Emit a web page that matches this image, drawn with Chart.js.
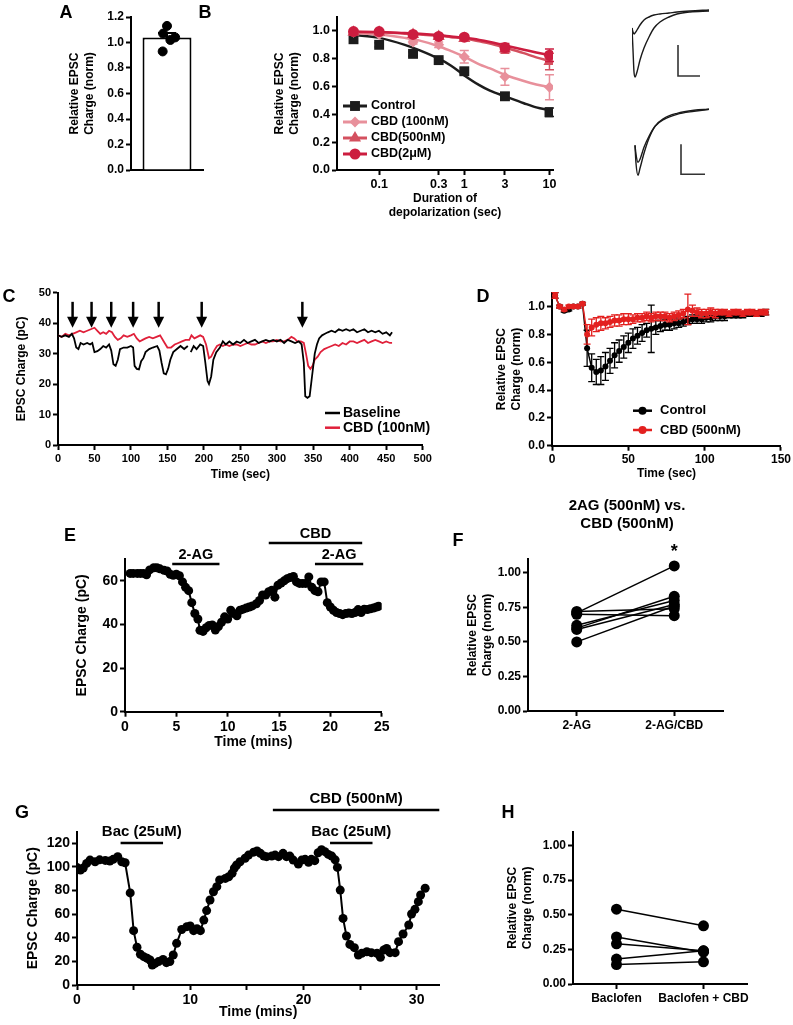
<!DOCTYPE html>
<html>
<head>
<meta charset="utf-8">
<title>CBD EPSC figura</title>
<script src="https://cdn.jsdelivr.net/npm/chart.js@4.4.1/dist/chart.umd.min.js"></script>
<style>
  body { margin: 0; background: #fff; }
  #fig { position: relative; width: 793px; height: 1025px; overflow: hidden; font-family: "Liberation Sans", Arial, sans-serif; color: #000; }
  #fig canvas { position: absolute; }
  .letra { position: absolute; font-weight: bold; font-size: 18px; transform: translate(-50%, -50%); z-index: 2; }
  .titulo { position: absolute; font-weight: bold; font-size: 15px; line-height: 18px; text-align: center; transform: translate(-50%, 0); white-space: nowrap; z-index: 2; }
</style>
</head>
<body>
<div id="fig">
  <canvas id="cA"></canvas>
  <canvas id="cB"></canvas>
  <canvas id="cBt1"></canvas>
  <canvas id="cBt2"></canvas>
  <canvas id="cC"></canvas>
  <canvas id="cD"></canvas>
  <canvas id="cE"></canvas>
  <canvas id="cF"></canvas>
  <canvas id="cG"></canvas>
  <canvas id="cH"></canvas>
  <div class="letra" style="left:66px;top:12px">A</div>
  <div class="letra" style="left:205px;top:12px">B</div>
  <div class="letra" style="left:9px;top:296px">C</div>
  <div class="letra" style="left:483px;top:296px">D</div>
  <div class="letra" style="left:70px;top:535px">E</div>
  <div class="letra" style="left:458px;top:540px">F</div>
  <div class="letra" style="left:22px;top:812px">G</div>
  <div class="letra" style="left:508px;top:812px">H</div>
  <div class="titulo" style="left:627px;top:496px">2AG (500nM) vs.<br>CBD (500nM)</div>
</div>
<script>
//==== Datos de cada panel ====

// A: carga relativa tras despolarizar con CBD
var aLabels = [''];
var aMean = [1.04];
var aSem = [0.035];
var aCells = [1.13, 1.07, 1.02, 1.04, 0.93];
var aJitter = [0.0, -0.08, 0.07, 0.17, -0.09];
var aYTicks = [0, 0.2, 0.4, 0.6, 0.8, 1.0, 1.2];

// B: curva DSE segun duracion de la despolarizacion
var bDur = [0.05, 0.1, 0.25, 0.5, 1, 3, 10];
var bCtrl = [0.94, 0.90, 0.835, 0.79, 0.71, 0.53, 0.415];
var bCtrlSem = [0.015, 0.015, 0.015, 0.015, 0.02, 0.025, 0.03];
var bCbd100 = [0.99, 0.975, 0.92, 0.90, 0.815, 0.67, 0.595];
var bCbd100Sem = [0.01, 0.01, 0.015, 0.02, 0.045, 0.06, 0.09];
var bCbd500 = [0.99, 0.99, 0.975, 0.96, 0.945, 0.87, 0.78];
var bCbd500Sem = [0.01, 0.01, 0.01, 0.015, 0.02, 0.03, 0.06];
var bCbd2 = [0.995, 0.995, 0.975, 0.96, 0.955, 0.88, 0.825];
var bCbd2Sem = [0.01, 0.01, 0.01, 0.01, 0.015, 0.03, 0.045];
var bFitX = [0.05, 0.1, 0.2, 0.3, 0.5, 0.7, 1, 1.5, 2, 3, 5, 7, 10];
var bFitCtrl = [0.97, 0.95, 0.90, 0.86, 0.80, 0.75, 0.68, 0.61, 0.57, 0.53, 0.48, 0.45, 0.43];
var bFit100 = [0.985, 0.975, 0.95, 0.93, 0.89, 0.855, 0.815, 0.76, 0.73, 0.685, 0.64, 0.615, 0.595];
var bFit500 = [0.99, 0.99, 0.98, 0.975, 0.965, 0.955, 0.945, 0.925, 0.91, 0.88, 0.84, 0.81, 0.785];
var bFit2 = [0.995, 0.993, 0.985, 0.98, 0.97, 0.96, 0.95, 0.935, 0.92, 0.895, 0.865, 0.845, 0.825];
var bNames = ['Control', 'CBD (100nM)', 'CBD(500nM)', 'CBD(2\u03bcM)'];
var bXTicks = [0.1, 0.5, 1, 3, 10];
var bXLabels = ['0.1', '0.3', '1', '3', '10'];
var bYTicks = [0, 0.2, 0.4, 0.6, 0.8, 1.0];

// B: trazos de ejemplo (ms, pA relativos)
var trTopT = [0, 1, 2, 3, 5, 8, 12, 17, 22, 28, 37, 45, 58, 77];
var trTopBig = [-18, -40, -62, -67, -62, -50, -38, -27, -18, -12, -7, -4, -2, -1];
var trTopSmall = [-18, -22, -24, -23, -20, -15, -10, -7, -5, -4, -3, -2, -1, 0];
var sbTopT = [46, 46, 68];
var sbTopV = [-35, -66, -66];
var trBotT = [3, 4, 6, 8, 12, 17, 23, 32, 45, 62, 77];
var trBotBig = [-36, -54, -66, -59, -44, -29, -17, -9, -4, -1, 0];
var trBotSmall = [-36, -45, -53, -50, -38, -27, -17, -10, -5, -2, 0];
var sbBotT = [49, 49, 73];
var sbBotV = [-35, -65, -65];

// C: registro en el tiempo con flechas de despolarizacion
var cTimeBase = [0,5,10,15,19,22,25,28,31,35,40,44,47,50,54,58,62,66,70,73,76,79,82,85,90,95,100,103,105,108,111,114,117,120,125,130,136,139,142,145,148,151,154,158,163,168,173,178,180,182,186,190,195,199,202,205,207,210,213,217,222,226,230,235,240,245,250,255,260,265,270,275,280,285,290,295,300,305,310,315,320,325,330,334,337,339,342,345,348,352,355,358,362,366,370,375,380,385,390,395,400,405,410,415,420,425,430,435,440,445,450,455,458];
var cBase = [36,35.5,36,35.5,36.5,35,32,31.5,33.5,33,33.5,33,33.5,30.5,30.8,31.5,32.5,32,33,31,26.5,26,28,31.5,32,32,32.5,32,26,25,24.8,27.5,28.5,30.5,31.5,32,32.5,31,27,23.5,23.2,25,28,30.5,31.5,32.5,31.5,32.5,null,30.5,32.5,31.5,33,32.5,27,21,20,22.5,28,30.5,32,34,33,34,33,34,33.5,34.5,33.5,34,34.5,33.5,34,34.5,34,34.5,34,34.5,33.5,34.5,34,33.5,34,33,27,16,15.5,16,22,30,33,35,36,36.5,37,37.5,37,38,37.5,38,37.5,38,37,37.5,38,37,37.5,37,37.5,36.5,37,36,37];
var cTimeCbd = [0,5,10,15,20,25,30,35,40,45,50,54,58,62,66,70,74,78,82,86,90,95,100,104,108,112,116,120,125,130,135,140,145,150,155,160,165,170,175,180,183,187,191,195,199,203,207,210,214,218,222,226,230,235,240,245,250,255,260,265,270,275,280,285,290,295,300,305,310,315,320,324,328,333,337,340,343,346,349,352,356,360,365,370,375,380,385,390,395,400,405,410,415,420,425,430,435,440,445,450,455,458];
var cCbd = [36,35.5,36.5,36,36.5,37,37.5,37,37.5,38,38.5,37.5,36.5,37,36.5,37.5,37,35.5,34.5,35,36,35.5,36,36.5,35,34,34.5,35,35.5,35,35.5,36,34,32,32,33,33.5,34,34.5,34.5,36,35,35.5,36,35.5,33,28.5,29,31,32.5,33,32.5,33,32.5,33,33,32.5,33,33.5,33,33,33.5,34,33.5,34,34,34.5,34,34,34.5,35.5,35,34,34,33.5,30,26,25,26,28,29,30.5,31.5,32,32.5,33,32.5,33.5,33,34,34,33.5,34,34.5,33.5,34,34.5,34,33.5,34,33.5,33.5];
var cArrows = [20, 46, 73, 103, 138, 197, 335];
var cNames = ['Baseline', 'CBD (100nM)'];
var cXTicks = [0, 50, 100, 150, 200, 250, 300, 350, 400, 450, 500];
var cYTicks = [0, 10, 20, 30, 40, 50];

// D: curso temporal promedio
var dTime = [2,5,8,11,14,17,20,23,26,29,32,35,38,41,44,47,50,53,56,59,62,65,68,71,74,77,80,83,86,89,92,95,98,101,104,107,110,113,116,119,122,125,128,131,134,137,140];
var dCtrl = [1.08,1.00,0.97,0.98,1.00,1.00,1.02,0.70,0.56,0.53,0.54,0.57,0.61,0.65,0.68,0.71,0.74,0.77,0.79,0.81,0.83,0.84,0.85,0.86,0.87,0.87,0.88,0.88,0.89,0.90,0.91,0.91,0.91,0.92,0.92,0.93,0.93,0.93,0.94,0.94,0.94,0.94,0.95,0.95,0.95,0.95,0.96];
var dCtrlSem = [0.02,0.01,0.01,0.01,0.01,0.01,0.01,0.13,0.1,0.09,0.1,0.1,0.09,0.09,0.08,0.08,0.07,0.07,0.06,0.06,0.05,0.17,0.05,0.04,0.04,0.04,0.04,0.03,0.03,0.03,0.03,0.03,0.03,0.03,0.03,0.03,0.03,0.03,0.02,0.02,0.02,0.02,0.02,0.02,0.02,0.02,0.02];
var dCbd = [1.08,1.00,0.98,1.00,1.00,1.00,1.02,0.80,0.85,0.87,0.88,0.88,0.89,0.90,0.90,0.91,0.91,0.91,0.92,0.92,0.93,0.92,0.93,0.93,0.93,0.92,0.93,0.94,0.95,0.98,0.97,0.96,0.95,0.95,0.96,0.95,0.96,0.96,0.95,0.96,0.96,0.95,0.96,0.96,0.95,0.96,0.96];
var dCbdSem = [0.02,0.01,0.01,0.01,0.01,0.01,0.01,0.07,0.06,0.05,0.05,0.04,0.04,0.04,0.04,0.04,0.04,0.03,0.03,0.03,0.03,0.03,0.03,0.03,0.03,0.03,0.03,0.03,0.03,0.11,0.04,0.03,0.03,0.03,0.03,0.03,0.02,0.02,0.02,0.02,0.02,0.02,0.02,0.02,0.02,0.02,0.02];
var dNames = ['Control', 'CBD (500nM)'];
var dXTicks = [0, 50, 100, 150];
var dYTicks = [0, 0.2, 0.4, 0.6, 0.8, 1.0];

// E: 2-AG antes y durante CBD
var eTime = [0.5,0.8,1.2,1.5,1.8,2.1,2.4,2.8,3.1,3.4,3.8,4.1,4.4,4.7,5.0,5.3,5.6,5.9,6.2,6.5,6.8,7.1,7.3,7.6,7.9,8.2,8.5,8.8,9.1,9.4,9.7,10.0,10.3,10.6,10.9,11.2,11.5,11.8,12.1,12.4,12.8,13.1,13.4,13.7,14.0,14.3,14.6,14.9,15.2,15.5,15.8,16.1,16.4,16.7,17.0,17.3,17.6,17.9,18.2,18.5,18.8,19.1,19.4,19.7,20.0,20.3,20.6,20.9,21.2,21.5,21.8,22.1,22.4,22.7,23.0,23.3,23.6,23.9,24.2,24.5,24.7];
var eCharge = [63.4,63.4,63.4,63.4,63.4,62.8,65,66,66,65.5,64.8,64.5,63,62.5,63,62.3,59.5,57,55.5,50,45,42.5,37.3,36.8,38.5,39.5,39.8,37.4,39,41,43.5,42.5,46.5,45,44,46.5,47,47.5,48,48.5,49.5,51,53.5,53.5,55,55.7,52.5,58,59,60,61,61.5,62,59.5,58.8,58.8,58.8,61.8,57,55.5,55,59.5,59.5,50,48,46.5,45.5,45,44.5,45,45.2,45,45.5,46.8,45.5,47,46.8,47.2,47.5,48,48.3];
var eDrugNames = ['2-AG', 'CBD', '2-AG'];
var eDrugStart = [4.6, 14.0, 18.5];
var eDrugEnd = [9.2, 23.1, 23.2];
var eXTicks = [0, 5, 10, 15, 20, 25];
var eYTicks = [0, 20, 40, 60];

// F: pares 2-AG vs 2-AG/CBD
var fLabels = ['2-AG', '2-AG/CBD'];
var f2ag = [0.72, 0.71, 0.70, 0.62, 0.60, 0.59, 0.50];
var fCbd = [0.74, 1.05, 0.69, 0.80, 0.83, 0.77, 0.76];
var fYTicks = [0, 0.25, 0.5, 0.75, 1.0];

// G: baclofeno antes y durante CBD
var gTime = [0,0.3,0.55,0.85,1.15,1.6,2.0,2.5,2.9,3.2,3.6,3.95,4.25,4.7,5.0,5.3,5.6,5.9,6.2,6.45,6.65,6.9,7.2,7.6,7.9,8.2,8.5,8.8,9.25,9.7,10.0,10.3,10.6,10.9,11.2,11.45,11.75,12.05,12.35,12.6,13.1,13.4,13.7,13.9,14.1,14.4,14.85,15.15,15.6,15.9,16.2,16.5,16.75,17.2,17.5,17.8,18.2,18.5,18.8,19.1,19.55,19.85,20.15,20.45,20.7,21.0,21.3,21.6,21.9,22.2,22.5,22.8,23.0,23.25,23.5,23.8,24.1,24.5,24.85,25.15,25.6,26.0,26.5,26.8,27.1,27.35,27.65,28.1,28.4,28.8,29.3,29.55,29.85,30.15,30.35,30.75];
var gCharge = [99.6,97.4,99,103,105.8,104.4,106,105.5,105,106.4,108.7,104.4,103.5,78,46,32,26,24,22.6,21.2,16.9,18.3,19.8,21.7,18.9,19.8,25.4,35.3,47,49.4,50,46,47.7,46,55,63,72,79,83.3,89,90.3,91.7,94.6,99,101.6,104.4,107.3,110,112.5,113.5,111.5,109.2,108.7,109.2,110,108.7,111.5,108.7,109.2,105.8,102.5,105.8,106.4,103.9,106.4,105.3,112,114.5,112.9,110.6,109.2,106,99.6,80.4,56.4,41.5,34.4,31.6,25.4,26.8,28.2,27.4,26.8,23.4,29.6,31,27.4,27.4,36.7,43.2,50.8,60.1,64.1,70.6,76.2,81.9];
var gDrugNames = ['Bac (25uM)', 'CBD (500nM)', 'Bac (25uM)'];
var gDrugStart = [3.85, 17.3, 22.35];
var gDrugEnd = [7.6, 32, 26.1];
var gXTicks = [0, 5, 10, 15, 20, 25, 30];
var gYTicks = [0, 20, 40, 60, 80, 100, 120];

// H: pares baclofeno vs baclofeno + CBD
var hLabels = ['Baclofen', 'Baclofen + CBD'];
var hBac = [0.54, 0.34, 0.29, 0.18, 0.14];
var hBacCbd = [0.42, 0.23, 0.24, 0.24, 0.16];
var hYTicks = [0, 0.25, 0.5, 0.75, 1.0];

//==== Configuracion general ====
var FAM = '"Liberation Sans", Arial, Helvetica, sans-serif';
var ROJO = '#e3201f';
Chart.defaults.font.family = FAM;
Chart.defaults.font.weight = 'bold';
Chart.defaults.color = '#000';
Chart.defaults.animation = false;
Chart.defaults.responsive = false;
Chart.defaults.layout.autoPadding = false;
Chart.defaults.plugins.legend.display = false;
Chart.defaults.plugins.tooltip.enabled = false;

function xy(xs, ys) {
  return xs.map(function (x, i) { return { x: x, y: ys[i] }; });
}
function dec(n) {
  return function (v) { return Number(v).toFixed(n); };
}

// eje estilo GraphPad: linea negra gruesa y marcas hacia afuera
function eje(c) {
  var e = {
    type: c.type || 'linear',
    position: c.pos,
    offset: !!c.offset,
    border: { display: true, color: '#000', width: 2 },
    grid: { display: true, drawOnChartArea: false, drawTicks: c.marks !== false, tickLength: 5, tickWidth: 2, tickColor: '#000' },
    ticks: { display: c.labels !== false, color: '#000', autoSkip: false, maxRotation: 0, padding: 2, font: { size: c.fs || 12, weight: 'bold' } },
    title: { display: !!c.title, text: c.title, padding: 0, color: '#000', font: { size: c.tfs || 12, weight: 'bold' } }
  };
  if (c.min !== undefined) e.min = c.min;
  if (c.max !== undefined) e.max = c.max;
  if (c.vals) {
    e.afterBuildTicks = function (s) {
      s.ticks = c.vals.map(function (v) { return { value: v }; });
    };
  }
  if (c.fmt) e.ticks.callback = c.fmt;
  return e;
}

// coloca el area del grafico en coordenadas de pagina
function panel(id, box, area, yw, xh, config) {
  var cv = document.getElementById(id);
  cv.width = box.w;
  cv.height = box.h;
  cv.style.left = box.x + 'px';
  cv.style.top = box.y + 'px';
  var op = config.options;
  op.layout = {
    autoPadding: false,
    padding: {
      left: area.l - box.x - yw,
      top: area.t - box.y,
      right: box.x + box.w - area.r,
      bottom: box.y + box.h - area.b - xh
    }
  };
  op.scales.x.afterFit = function (s) { s.height = xh; };
  op.scales.y.afterFit = function (s) { s.width = yw; };
  return new Chart(cv, config);
}

// barras de error (SEM) antes de dibujar cada serie
var pluginErr = {
  id: 'barrasError',
  beforeDatasetDraw: function (chart, args) {
    var ds = chart.data.datasets[args.index];
    if (!ds.yErr) return;
    var ys = chart.scales[args.meta.yAxisID];
    var ctx = chart.ctx;
    ctx.save();
    ctx.strokeStyle = ds.errColor || ds.borderColor;
    ctx.lineWidth = ds.errWidth || 1.5;
    args.meta.data.forEach(function (p, i) {
      var e = ds.yErr[i];
      if (!e) return;
      var v = ys.getValueForPixel(p.y);
      var y1 = ys.getPixelForValue(v + e);
      var y2 = ys.getPixelForValue(v - e);
      var w = (ds.capW || 8) / 2;
      ctx.beginPath();
      ctx.moveTo(p.x, y1); ctx.lineTo(p.x, y2);
      ctx.moveTo(p.x - w, y1); ctx.lineTo(p.x + w, y1);
      ctx.moveTo(p.x - w, y2); ctx.lineTo(p.x + w, y2);
      ctx.stroke();
    });
    ctx.restore();
  }
};

// flechas, barras de farmaco, leyendas y asterisco
var pluginExtras = {
  id: 'extras',
  afterDraw: function (chart, args, o) {
    var ctx = chart.ctx, xs = chart.scales.x, ys = chart.scales.y, area = chart.chartArea;
    ctx.save();
    if (o.arrows) {
      var A = o.arrows;
      ctx.strokeStyle = '#000';
      ctx.fillStyle = '#000';
      ctx.lineWidth = A.width;
      A.times.forEach(function (t) {
        var x = xs.getPixelForValue(t);
        var y0 = ys.getPixelForValue(A.top);
        var y1 = ys.getPixelForValue(A.tip);
        ctx.beginPath();
        ctx.moveTo(x, y0);
        ctx.lineTo(x, y1 - A.head + 1);
        ctx.stroke();
        ctx.beginPath();
        ctx.moveTo(x - A.half, y1 - A.head);
        ctx.lineTo(x + A.half, y1 - A.head);
        ctx.lineTo(x, y1);
        ctx.closePath();
        ctx.fill();
      });
    }
    if (o.drugs) {
      var D = o.drugs;
      ctx.strokeStyle = '#000';
      ctx.fillStyle = '#000';
      ctx.lineWidth = D.width;
      ctx.font = 'bold ' + D.font + 'px ' + FAM;
      ctx.textAlign = 'center';
      ctx.textBaseline = 'middle';
      D.names.forEach(function (nm, i) {
        var x0 = xs.getPixelForValue(D.start[i]);
        var x1 = xs.getPixelForValue(D.end[i]);
        var y = area.top + D.rows[i];
        ctx.beginPath();
        ctx.moveTo(x0, y);
        ctx.lineTo(x1, y);
        ctx.stroke();
        ctx.fillText(nm, (x0 + x1) / 2, y - D.gap);
      });
    }
    if (o.legend) {
      var L = o.legend;
      L.items.forEach(function (it, i) {
        var y = L.y + i * L.dy;
        ctx.strokeStyle = it.color;
        ctx.lineWidth = L.lineWidth;
        ctx.beginPath();
        ctx.moveTo(L.x, y);
        ctx.lineTo(L.x + L.len, y);
        ctx.stroke();
        if (it.pointStyle) {
          ctx.fillStyle = it.color;
          Chart.helpers.drawPoint(ctx, { pointStyle: it.pointStyle, radius: it.radius, rotation: 0, borderWidth: 0 }, L.x + L.len / 2, y);
        }
        ctx.fillStyle = '#000';
        ctx.font = 'bold ' + L.font + 'px ' + FAM;
        ctx.textAlign = 'left';
        ctx.textBaseline = 'middle';
        ctx.fillText(it.text, L.x + L.len + L.gap, y);
      });
    }
    if (o.star) {
      var S = o.star, top = -Infinity;
      chart.data.datasets.forEach(function (ds) { top = Math.max(top, ds.data[S.index]); });
      ctx.fillStyle = '#000';
      ctx.font = 'bold ' + S.size + 'px ' + FAM;
      ctx.textAlign = 'center';
      ctx.textBaseline = 'middle';
      ctx.fillText(S.text, xs.getPixelForValue(S.index), ys.getPixelForValue(top) - S.lift);
    }
    ctx.restore();
  }
};
Chart.register(pluginErr, pluginExtras);

//==== Panel A ====
panel('cA', { x: 20, y: 0, w: 200, h: 200 }, { l: 131, t: 17, r: 203, b: 170 }, 63.2, 10, {
  type: 'bar',
  data: {
    labels: aLabels,
    datasets: [
      { type: 'scatter', xAxisID: 'xs', data: xy(aJitter, aCells), pointRadius: 4.5, backgroundColor: '#000', borderColor: '#000', order: 0 },
      { data: aMean, backgroundColor: '#fff', borderColor: '#000', borderWidth: 2, grouped: false, barPercentage: 0.68, categoryPercentage: 1, yErr: aSem, capW: 18, errWidth: 2, order: 1 }
    ]
  },
  options: {
    scales: {
      x: eje({ type: 'category', pos: 'bottom', offset: true, labels: false, marks: false }),
      xs: { type: 'linear', display: false, min: -0.5, max: 0.5 },
      y: eje({ pos: 'left', min: 0, max: 1.2, vals: aYTicks, fmt: dec(1), fs: 12, title: ['Relative EPSC', 'Charge (norm)'], tfs: 12 })
    }
  }
});

//==== Panel B ====
var bSeries = [
  { pts: bCbd2, sem: bCbd2Sem, fit: bFit2, color: '#cc1d3f', style: 'circle', r: 5.5 },
  { pts: bCbd500, sem: bCbd500Sem, fit: bFit500, color: '#d4505f', style: 'triangle', r: 7 },
  { pts: bCbd100, sem: bCbd100Sem, fit: bFit100, color: '#e8909b', style: 'rectRot', r: 5.5 },
  { pts: bCtrl, sem: bCtrlSem, fit: bFitCtrl, color: '#1c1c1c', style: 'rect', r: 7 }
];
var bSets = [];
bSeries.forEach(function (s, i) {
  bSets.push({ data: xy(bDur, s.pts), showLine: false, pointStyle: s.style, pointRadius: s.r, backgroundColor: s.color, borderColor: s.color, pointBorderWidth: 0, yErr: s.sem, capW: 9, errWidth: 1.5, order: i + 1 });
  bSets.push({ data: xy(bFitX, s.fit), borderColor: s.color, borderWidth: 2.5, pointRadius: 0, cubicInterpolationMode: 'monotone', order: i + 5 });
});
panel('cB', { x: 250, y: 0, w: 330, h: 240 }, { l: 337, t: 17, r: 553, b: 170 }, 64.2, 50.2, {
  type: 'line',
  data: { datasets: bSets },
  options: {
    scales: {
      x: eje({ type: 'logarithmic', pos: 'bottom', min: 0.032, max: 11, vals: bXTicks, fmt: function (v, i) { return bXLabels[i]; }, fs: 12.5, title: ['Duration of', 'depolarization (sec)'], tfs: 12 }),
      y: eje({ pos: 'left', min: 0, max: 1.1, vals: bYTicks, fmt: dec(1), fs: 12.5, title: ['Relative EPSC', 'Charge (norm)'], tfs: 12 })
    },
    plugins: {
      extras: {
        legend: {
          x: 93, y: 106, dy: 16, len: 24, gap: 4, font: 12.5, lineWidth: 3,
          items: [
            { text: bNames[0], color: '#1c1c1c', pointStyle: 'rect', radius: 7 },
            { text: bNames[1], color: '#e8909b', pointStyle: 'rectRot', radius: 5.5 },
            { text: bNames[2], color: '#d4505f', pointStyle: 'triangle', radius: 7 },
            { text: bNames[3], color: '#cc1d3f', pointStyle: 'circle', radius: 5.5 }
          ]
        }
      }
    }
  }
});

// trazos de ejemplo sin ejes
function trazos(id, box, yMin, yMax, series) {
  var cv = document.getElementById(id);
  cv.width = box.w;
  cv.height = box.h;
  cv.style.left = box.x + 'px';
  cv.style.top = box.y + 'px';
  return new Chart(cv, {
    type: 'line',
    data: {
      datasets: series.map(function (s) {
        return { data: xy(s.t, s.v), borderColor: s.bar ? '#333' : '#1a1a1a', borderWidth: s.bar ? 1.6 : 1.4, pointRadius: 0, cubicInterpolationMode: s.bar ? 'default' : 'monotone', tension: 0, clip: false };
      })
    },
    options: {
      layout: { autoPadding: false, padding: 0 },
      scales: {
        x: { type: 'linear', display: false, min: 0, max: 80 },
        y: { type: 'linear', display: false, min: yMin, max: yMax }
      }
    }
  });
}
trazos('cBt1', { x: 632, y: 0, w: 80, h: 90 }, -80, 10, [
  { t: trTopT, v: trTopBig }, { t: trTopT, v: trTopSmall }, { t: sbTopT, v: sbTopV, bar: true }
]);
trazos('cBt2', { x: 632, y: 95, w: 80, h: 90 }, -75.7, 14.3, [
  { t: trBotT, v: trBotBig }, { t: trBotT, v: trBotSmall }, { t: sbBotT, v: sbBotV, bar: true }
]);

//==== Panel C ====
panel('cC', { x: 0, y: 270, w: 450, h: 230 }, { l: 58, t: 292.7, r: 422.7, b: 445 }, 43.2, 37.2, {
  type: 'line',
  data: {
    datasets: [
      { data: xy(cTimeBase, cBase), borderColor: '#000', borderWidth: 1.8, pointRadius: 0 },
      { data: xy(cTimeCbd, cCbd), borderColor: '#e0203a', borderWidth: 1.8, pointRadius: 0 }
    ]
  },
  options: {
    scales: {
      x: eje({ pos: 'bottom', min: 0, max: 500, vals: cXTicks, fmt: dec(0), fs: 11, title: 'Time (sec)', tfs: 12 }),
      y: eje({ pos: 'left', min: 0, max: 50, vals: cYTicks, fmt: dec(0), fs: 11, title: 'EPSC Charge (pC)', tfs: 12 })
    },
    plugins: {
      extras: {
        arrows: { times: cArrows, top: 47, tip: 38.5, head: 11, half: 5.5, width: 2.5 },
        legend: {
          x: 325, y: 143, dy: 14.7, len: 15, gap: 3, font: 14, lineWidth: 2.5,
          items: [{ text: cNames[0], color: '#000' }, { text: cNames[1], color: '#e0203a' }]
        }
      }
    }
  }
});

//==== Panel D ====
panel('cD', { x: 480, y: 270, w: 313, h: 230 }, { l: 552, t: 292.7, r: 782.3, b: 445.7 }, 57.2, 35.5, {
  type: 'line',
  data: {
    datasets: [
      { data: xy(dTime, dCbd), borderColor: ROJO, backgroundColor: ROJO, borderWidth: 1.5, pointRadius: 3, pointBorderWidth: 0, yErr: dCbdSem, capW: 7, errWidth: 1.3 },
      { data: xy(dTime, dCtrl), borderColor: '#000', backgroundColor: '#000', borderWidth: 1.5, pointRadius: 3, pointBorderWidth: 0, yErr: dCtrlSem, capW: 7, errWidth: 1.3 }
    ]
  },
  options: {
    scales: {
      x: eje({ pos: 'bottom', min: 0, max: 150, vals: dXTicks, fmt: dec(0), fs: 12, title: 'Time (sec)', tfs: 12 }),
      y: eje({ pos: 'left', min: 0, max: 1.1, vals: dYTicks, fmt: dec(1), fs: 12, title: ['Relative EPSC', 'Charge (norm)'], tfs: 12 })
    },
    plugins: {
      extras: {
        legend: {
          x: 153, y: 140.7, dy: 19.3, len: 19, gap: 8, font: 13, lineWidth: 2.5,
          items: [
            { text: dNames[0], color: '#000', pointStyle: 'circle', radius: 4 },
            { text: dNames[1], color: ROJO, pointStyle: 'circle', radius: 4 }
          ]
        }
      }
    }
  }
});

//==== Panel E ====
panel('cE', { x: 20, y: 500, w: 400, h: 260 }, { l: 125, t: 559, r: 381.7, b: 711.7 }, 51.4, 38.7, {
  type: 'line',
  data: {
    datasets: [
      { data: xy(eTime, eCharge), borderColor: '#000', backgroundColor: '#000', borderWidth: 2, pointRadius: 4.5, pointBorderWidth: 0 }
    ]
  },
  options: {
    scales: {
      x: eje({ pos: 'bottom', min: 0, max: 25, vals: eXTicks, fmt: dec(0), fs: 14, title: 'Time (mins)', tfs: 14 }),
      y: eje({ pos: 'left', min: 0, max: 70, vals: eYTicks, fmt: dec(0), fs: 14, title: 'EPSC Charge (pC)', tfs: 14 })
    },
    plugins: {
      extras: {
        drugs: { names: eDrugNames, start: eDrugStart, end: eDrugEnd, rows: [5, -16, 5], gap: 9, width: 2.5, font: 14.5 }
      }
    }
  }
});

//==== Panel F ====
panel('cF', { x: 420, y: 490, w: 373, h: 250 }, { l: 528, t: 559, r: 723, b: 711 }, 62.2, 25, {
  type: 'line',
  data: {
    labels: fLabels,
    datasets: f2ag.map(function (v, i) {
      return { data: [v, fCbd[i]], borderColor: '#000', backgroundColor: '#000', borderWidth: 1.5, pointRadius: 5.5, pointBorderWidth: 0 };
    })
  },
  options: {
    scales: {
      x: eje({ type: 'category', pos: 'bottom', offset: true, fs: 12 }),
      y: eje({ pos: 'left', min: 0, max: 1.1, vals: fYTicks, fmt: dec(2), fs: 12, title: ['Relative EPSC', 'Charge (norm)'], tfs: 12 })
    },
    plugins: {
      extras: { star: { index: 1, text: '*', size: 18, lift: 14 } }
    }
  }
});

//==== Panel G ====
panel('cG', { x: 0, y: 770, w: 470, h: 255 }, { l: 77, t: 831.5, r: 439.3, b: 985 }, 52.4, 35.4, {
  type: 'line',
  data: {
    datasets: [
      { data: xy(gTime, gCharge), borderColor: '#000', backgroundColor: '#000', borderWidth: 2, pointRadius: 4.5, pointBorderWidth: 0 }
    ]
  },
  options: {
    scales: {
      x: eje({ pos: 'bottom', min: 0, max: 32, vals: gXTicks, fmt: function (v) { return v % 10 === 0 ? String(v) : ''; }, fs: 14, title: 'Time (mins)', tfs: 14 }),
      y: eje({ pos: 'left', min: 0, max: 130, vals: gYTicks, fmt: dec(0), fs: 14, title: 'EPSC Charge (pC)', tfs: 14 })
    },
    plugins: {
      extras: {
        drugs: { names: gDrugNames, start: gDrugStart, end: gDrugEnd, rows: [11.5, -21.5, 11.5], gap: 11, width: 2.5, font: 15 }
      }
    }
  }
});

//==== Panel H ====
panel('cH', { x: 480, y: 770, w: 313, h: 255 }, { l: 573, t: 831.7, r: 747, b: 984 }, 67.2, 25, {
  type: 'line',
  data: {
    labels: hLabels,
    datasets: hBac.map(function (v, i) {
      return { data: [v, hBacCbd[i]], borderColor: '#000', backgroundColor: '#000', borderWidth: 1.5, pointRadius: 5.5, pointBorderWidth: 0 };
    })
  },
  options: {
    scales: {
      x: eje({ type: 'category', pos: 'bottom', offset: true, fs: 12 }),
      y: eje({ pos: 'left', min: 0, max: 1.1, vals: hYTicks, fmt: dec(2), fs: 12, title: ['Relative EPSC', 'Charge (norm)'], tfs: 12 })
    }
  }
});
</script>
</body>
</html>
